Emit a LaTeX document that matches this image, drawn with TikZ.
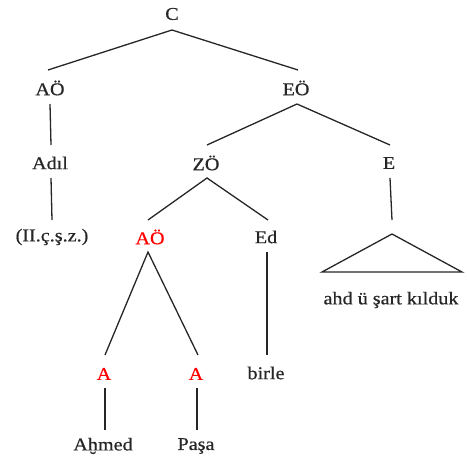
\documentclass[tikz,border=0pt]{standalone}
\usepackage{fontspec}
\setmainfont{Liberation Serif}[FakeStretch=1.12,FakeBold=0.6]
\begin{document}
\begin{tikzpicture}[x=1pt,y=-1pt,
  lab/.style={inner sep=0pt,font=\fontsize{18}{20}\selectfont,text=black!85},
  redlab/.style={lab,text=red},
  br/.style={line width=1.3pt,draw=black!85}]
\useasboundingbox (0,0) rectangle (467,463);
\node[lab] (C) at (172,14) {C};
\node[lab] (AO) at (50,88) {AÖ};
\node[lab] (EO) at (296,88) {EÖ};
\node[lab] (Adil) at (50,163) {Adıl};
\node[lab] (II) at (52,237) {(II.ç.ş.z.)};
\node[lab] (ZO) at (206,163) {ZÖ};
\node[lab] (E) at (389,163) {E};
\node[redlab] (AO2) at (150,237) {AÖ};
\node[lab] (Ed) at (266,237) {Ed};
\node[lab] (ahd) at (391,300) {ahd ü şart kılduk};
\node[redlab] (A1) at (104,374) {A};
\node[redlab] (A2) at (196,374) {A};
\node[lab] (birle) at (266,373) {birle};
\node[lab] (Ahmed) at (103,446) {Aḫmed};
\node[lab] (Pasa) at (196,446) {Paşa};
% connector endpoints
\coordinate (cB) at (172,30);
\coordinate (aoT) at (48,70);
\coordinate (eoT) at (298,70);
\draw[br] (aoT) -- (cB) -- (eoT);
\coordinate (aoB) at (50,104);
\coordinate (adT) at (51,145);
\draw[br] (aoB) -- (adT);
\coordinate (adB) at (51,178);
\coordinate (iiT) at (52,220);
\draw[br] (adB) -- (iiT);
\coordinate (eoB) at (297,104);
\coordinate (zoT) at (207,145);
\coordinate (eT) at (390,145);
\draw[br] (zoT) -- (eoB) -- (eT);
\coordinate (zoB) at (207,178);
\coordinate (ao2T) at (148,220);
\coordinate (edT) at (268,220);
\draw[br] (ao2T) -- (zoB) -- (edT);
\coordinate (eB) at (390,178);
\coordinate (eE) at (392,220);
\draw[br] (eB) -- (eE);
\coordinate (triA) at (392,234);
\coordinate (triL) at (322,272);
\coordinate (triR) at (462,272);
\draw[br,line join=miter] (triA) -- (triL) -- (triR) -- cycle;
\coordinate (ao2B) at (148,252);
\coordinate (a1T) at (105,355);
\coordinate (a2T) at (198,355);
\draw[br] (a1T) -- (ao2B) -- (a2T);
\coordinate (edB) at (267,252);
\coordinate (birT) at (267,355);
\draw[br] (edB) -- (birT);
\coordinate (a1B) at (105,388);
\coordinate (ahT) at (105,430);
\draw[br] (a1B) -- (ahT);
\coordinate (a2B) at (197,388);
\coordinate (paT) at (197,430);
\draw[br] (a2B) -- (paT);
\end{tikzpicture}
\end{document}
